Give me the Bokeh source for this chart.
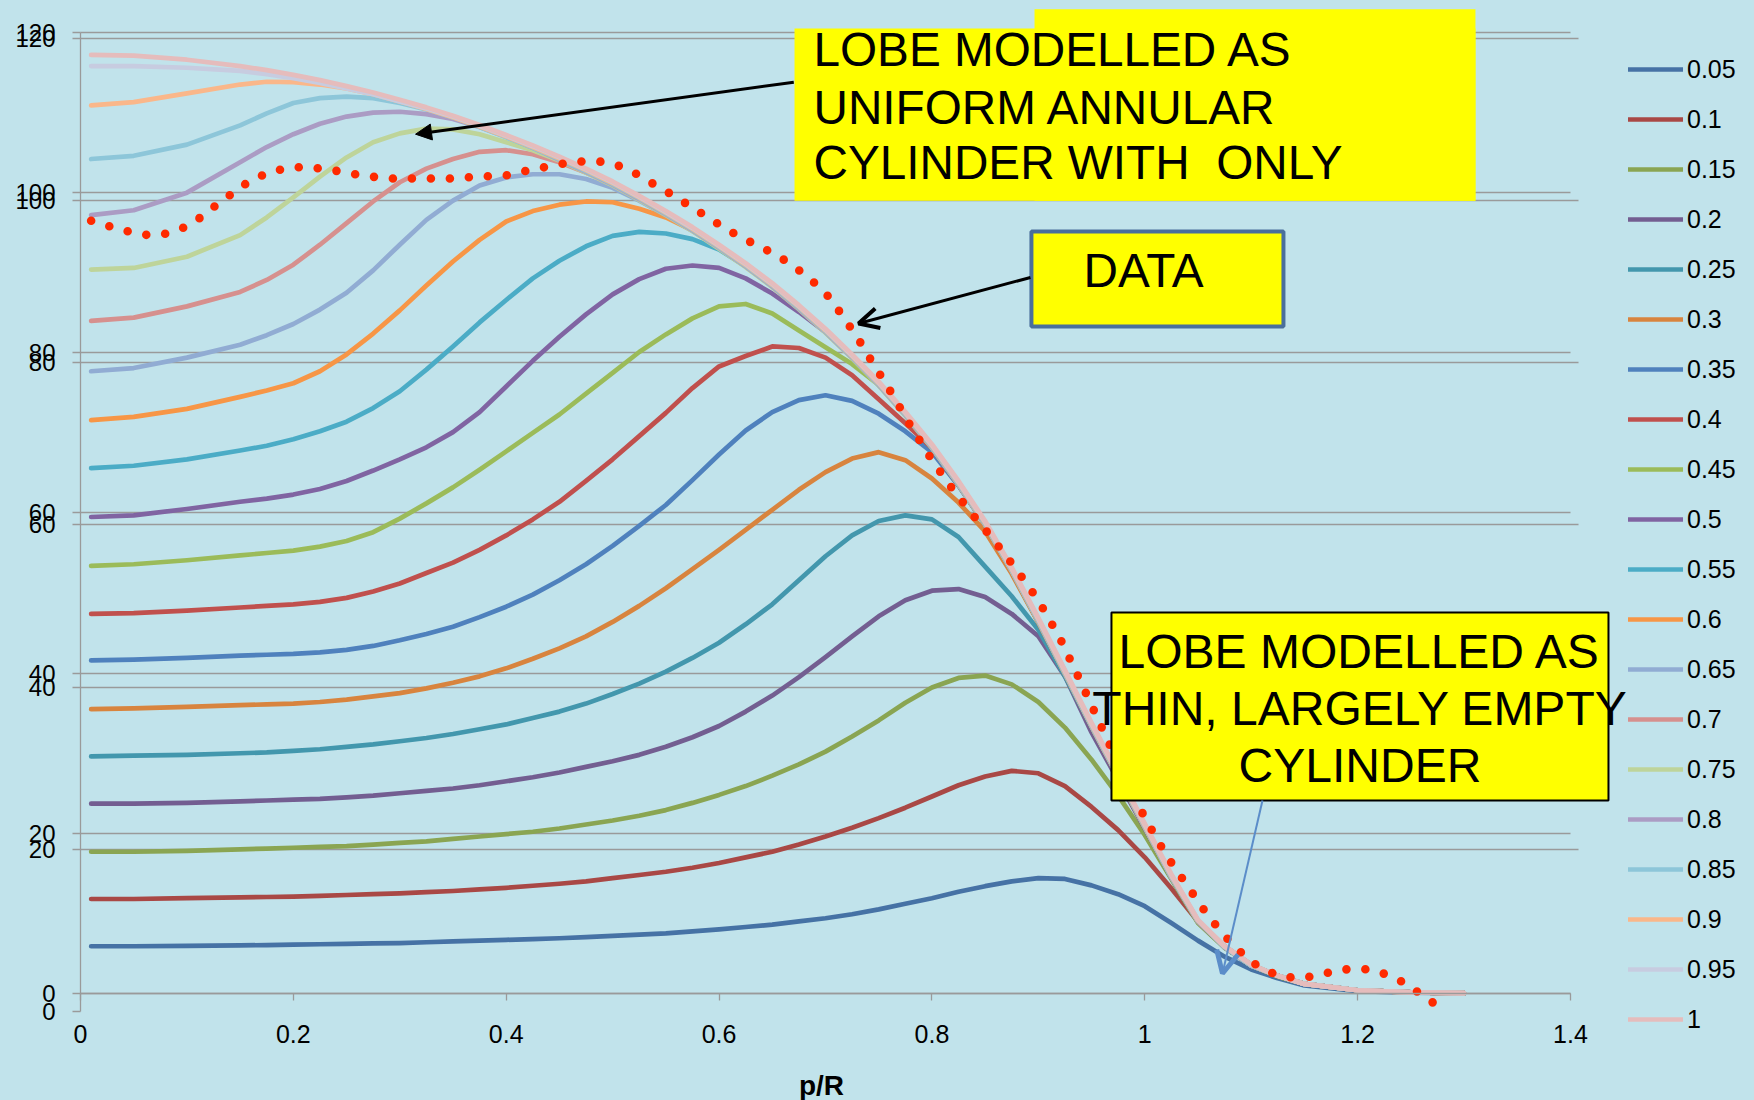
from bokeh.plotting import figure
from bokeh.models import (Range1d, FixedTicker, Grid, BoxAnnotation, Label, Arrow,
                          NormalHead, OpenHead)
from bokeh.embed import file_html
from bokeh.resources import INLINE

BG = "#c1e3eb"
GRID = "#9a9a9a"
FONT = "Liberation Sans"

# ---------------- data ----------------
X = [0.01, 0.05, 0.10, 0.15,
     0.175, 0.20, 0.225, 0.25, 0.275, 0.30, 0.325, 0.35, 0.375, 0.40,
     0.425, 0.45, 0.475, 0.50, 0.525, 0.55, 0.575, 0.60, 0.625, 0.65,
     0.675, 0.70, 0.725, 0.75, 0.775, 0.80, 0.825, 0.85, 0.875, 0.90,
     0.925, 0.95, 0.975, 1.00, 1.025, 1.05, 1.075, 1.10, 1.125, 1.15,
     1.20, 1.25, 1.30]

SERIES_LABELS = ["0.05", "0.1", "0.15", "0.2", "0.25", "0.3", "0.35", "0.4", "0.45", "0.5",
                 "0.55", "0.6", "0.65", "0.7", "0.75", "0.8", "0.85", "0.9", "0.95", "1"]

SERIES_COLORS = ["#4672a5", "#a94845", "#8aa552", "#735e91", "#4397ad", "#d8843e",
                 "#4f81bd", "#c0504d", "#9bbb59", "#8064a2", "#4bacc6", "#f79646",
                 "#91acd3", "#d6908e", "#bed49a", "#ab9cc4", "#8dc6d9", "#fab78a",
                 "#c7cce0", "#e5bcbc"]

S_005 = [5.9, 5.9, 5.95, 6.0, 6.05, 6.1, 6.15, 6.2, 6.25, 6.3,
         6.4, 6.5, 6.6, 6.7, 6.8, 6.9, 7.05, 7.2, 7.35, 7.5,
         7.75, 8.0, 8.3, 8.6, 9.0, 9.4, 9.9, 10.5, 11.2, 11.9,
         12.7, 13.4, 14.0, 14.4, 14.3, 13.5, 12.4, 10.9, 8.8, 6.6,
         4.6, 3.0, 1.9, 1.0, 0.3, 0.1, 0.03]
S_010 = [11.8, 11.8, 11.9, 12.0, 12.05, 12.1, 12.2, 12.3, 12.4, 12.5,
         12.65, 12.8, 13.0, 13.2, 13.45, 13.7, 14.0, 14.4, 14.8, 15.2,
         15.7, 16.3, 17.0, 17.7, 18.6, 19.6, 20.7, 21.9, 23.2, 24.6,
         26.0, 27.1, 27.8, 27.5, 25.9, 23.3, 20.4, 17.0, 13.1, 9.0,
         5.9, 3.6, 2.2, 1.2, 0.4, 0.15, 0.05]
S_015 = [17.7, 17.7, 17.8, 18.0, 18.1, 18.2, 18.3, 18.4, 18.6, 18.8,
         19.0, 19.3, 19.6, 19.9, 20.2, 20.6, 21.1, 21.6, 22.2, 22.9,
         23.8, 24.8, 25.9, 27.2, 28.6, 30.2, 32.1, 34.1, 36.3, 38.2,
         39.4, 39.7, 38.6, 36.4, 33.2, 29.2, 24.7, 19.8, 14.3, 8.8,
         5.7, 3.5, 2.1, 1.2, 0.4, 0.15, 0.05]
S_020 = [23.7, 23.7, 23.8, 24.0, 24.1, 24.2, 24.3, 24.5, 24.7, 25.0,
         25.3, 25.6, 26.0, 26.5, 27.0, 27.6, 28.3, 29.0, 29.8, 30.8,
         32.0, 33.4, 35.2, 37.2, 39.5, 42.0, 44.6, 47.1, 49.1, 50.3,
         50.5, 49.5, 47.4, 44.6, 39.6, 32.6, 26.6, 20.6, 14.6, 9.0,
         5.8, 3.5, 2.2, 1.2, 0.4, 0.15, 0.05]
S_025 = [29.6, 29.7, 29.8, 30.0, 30.1, 30.3, 30.5, 30.8, 31.1, 31.5,
         31.9, 32.4, 33.0, 33.6, 34.4, 35.2, 36.2, 37.4, 38.7, 40.2,
         41.9, 43.8, 46.1, 48.6, 51.6, 54.6, 57.2, 59.0, 59.7, 59.2,
         57.0, 53.3, 49.6, 45.4, 39.6, 33.3, 27.2, 21.0, 14.7, 9.0,
         5.8, 3.5, 2.2, 1.2, 0.4, 0.15, 0.05]
S_030 = [35.5, 35.6, 35.8, 36.0, 36.1, 36.2, 36.4, 36.7, 37.1, 37.5,
         38.1, 38.8, 39.6, 40.6, 41.8, 43.1, 44.6, 46.4, 48.4, 50.6,
         53.0, 55.4, 57.9, 60.4, 62.9, 65.1, 66.8, 67.6, 66.6, 64.3,
         61.3, 57.7, 52.4, 46.3, 40.0, 33.6, 27.2, 20.9, 14.6, 9.0,
         5.8, 3.5, 2.2, 1.2, 0.4, 0.15, 0.05]
S_035 = [41.6, 41.7, 41.9, 42.2, 42.3, 42.4, 42.6, 42.9, 43.4, 44.1,
         44.9, 45.8, 47.0, 48.3, 49.8, 51.6, 53.6, 55.9, 58.4, 61.0,
         64.1, 67.3, 70.3, 72.6, 74.1, 74.7, 74.0, 72.4, 70.2, 67.6,
         63.4, 58.5, 52.8, 46.5, 40.0, 33.4, 27.1, 20.8, 14.5, 9.0,
         5.8, 3.5, 2.2, 1.2, 0.4, 0.15, 0.05]
S_040 = [47.4, 47.5, 47.8, 48.2, 48.4, 48.6, 48.9, 49.4, 50.2, 51.2,
         52.5, 53.8, 55.4, 57.2, 59.2, 61.4, 64.0, 66.7, 69.6, 72.5,
         75.6, 78.3, 79.6, 80.8, 80.6, 79.4, 77.2, 74.2, 71.2, 68.1,
         63.5, 58.5, 52.7, 46.4, 39.9, 33.3, 27.0, 20.7, 14.5, 9.0,
         5.8, 3.5, 2.2, 1.2, 0.4, 0.15, 0.05]
S_045 = [53.4, 53.6, 54.1, 54.7, 55.0, 55.3, 55.8, 56.5, 57.6, 59.3,
         61.2, 63.2, 65.4, 67.7, 70.0, 72.3, 74.9, 77.5, 80.1, 82.3,
         84.3, 85.8, 86.1, 84.9, 82.8, 80.7, 78.6, 76.0, 72.3, 68.2,
         63.6, 58.6, 52.8, 46.5, 40.0, 33.4, 27.1, 20.8, 14.5, 9.0,
         5.8, 3.5, 2.2, 1.2, 0.4, 0.15, 0.05]
S_050 = [59.5, 59.7, 60.5, 61.4, 61.8, 62.3, 63.0, 64.0, 65.3, 66.7,
         68.2, 70.1, 72.6, 75.8, 79.0, 82.0, 84.8, 87.3, 89.2, 90.5,
         90.9, 90.6, 89.3, 87.4, 85.1, 82.6, 79.6, 76.2, 72.45, 68.4,
         63.8, 58.8, 53.0, 46.7, 40.2, 33.6, 27.3, 21.0, 14.7, 9.1,
         5.8, 3.5, 2.2, 1.2, 0.4, 0.15, 0.05]
S_055 = [65.6, 65.9, 66.7, 67.8, 68.4, 69.2, 70.2, 71.4, 73.1, 75.2,
         77.9, 80.8, 83.8, 86.6, 89.3, 91.5, 93.3, 94.6, 95.1, 94.9,
         94.2, 92.9, 90.8, 88.3, 85.6, 82.6, 79.4, 76.0, 72.25, 68.2,
         63.6, 58.6, 52.8, 46.5, 40.0, 33.4, 27.1, 20.8, 14.5, 9.0,
         5.8, 3.5, 2.2, 1.2, 0.4, 0.15, 0.05]
S_060 = [71.6, 72.0, 73.0, 74.5, 75.3, 76.2, 77.7, 79.8, 82.4, 85.3,
         88.4, 91.4, 94.1, 96.4, 97.7, 98.5, 98.9, 98.8, 98.0, 96.9,
         95.3, 93.3, 90.9, 88.4, 85.65, 82.7, 79.5, 76.1, 72.35, 68.3,
         63.7, 58.7, 52.9, 46.6, 40.1, 33.5, 27.2, 20.9, 14.6, 9.0,
         5.8, 3.5, 2.2, 1.2, 0.4, 0.15, 0.05]
S_065 = [77.7, 78.1, 79.4, 81.0, 82.2, 83.6, 85.4, 87.5, 90.3, 93.5,
         96.6, 99.0, 100.9, 101.9, 102.3, 102.3, 101.7, 100.6, 99.0, 97.2,
         95.2, 93.1, 90.8, 88.3, 85.55, 82.6, 79.4, 76.0, 72.25, 68.2,
         63.6, 58.6, 52.8, 46.5, 40.0, 33.4, 27.1, 20.8, 14.5, 9.0,
         5.8, 3.5, 2.2, 1.2, 0.4, 0.15, 0.05]
S_070 = [84.0, 84.4, 85.8, 87.6, 89.1, 91.0, 93.5, 96.2, 98.9, 101.3,
         103.0, 104.2, 105.1, 105.3, 104.8, 103.8, 102.5, 101.0, 99.3, 97.4,
         95.4, 93.2, 90.9, 88.4, 85.65, 82.7, 79.5, 76.1, 72.35, 68.3,
         63.7, 58.7, 52.9, 46.6, 40.1, 33.5, 27.2, 20.9, 14.6, 9.0,
         5.8, 3.5, 2.2, 1.2, 0.4, 0.15, 0.05]
S_075 = [90.4, 90.6, 92.0, 94.7, 96.9, 99.4, 102.0, 104.4, 106.3, 107.4,
         108.0, 107.9, 107.3, 106.3, 105.3, 104.0, 102.5, 100.9, 99.1, 97.2,
         95.2, 93.0, 90.7, 88.2, 85.45, 82.5, 79.3, 75.9, 72.15, 68.1,
         63.5, 58.5, 52.7, 46.4, 39.9, 33.3, 27.0, 20.7, 14.5, 9.0,
         5.8, 3.5, 2.2, 1.2, 0.4, 0.15, 0.05]
S_080 = [97.2, 97.8, 100.0, 103.8, 105.7, 107.3, 108.6, 109.5, 110.0, 110.1,
         109.8, 109.2, 108.2, 107.0, 105.6, 104.1, 102.6, 101.0, 99.2, 97.3,
         95.3, 93.1, 90.8, 88.3, 85.55, 82.6, 79.4, 76.0, 72.25, 68.2,
         63.6, 58.6, 52.8, 46.5, 40.0, 33.4, 27.1, 20.8, 14.5, 9.0,
         5.8, 3.5, 2.2, 1.2, 0.4, 0.15, 0.05]
S_085 = [104.2, 104.6, 106.0, 108.4, 109.9, 111.2, 111.8, 112.0, 111.8, 111.2,
         110.4, 109.4, 108.2, 106.9, 105.6, 104.2, 102.7, 101.1, 99.3, 97.4,
         95.4, 93.2, 90.9, 88.4, 85.65, 82.7, 79.5, 76.1, 72.35, 68.3,
         63.7, 58.7, 52.9, 46.6, 40.1, 33.5, 27.2, 20.9, 14.6, 9.1,
         5.8, 3.5, 2.2, 1.2, 0.4, 0.15, 0.05]
S_090 = [110.9, 111.3, 112.4, 113.5, 113.85, 113.8, 113.5, 113.0, 112.3, 111.4,
         110.45, 109.4, 108.25, 107.0, 105.7, 104.3, 102.8, 101.2, 99.4, 97.5,
         95.5, 93.3, 91.0, 88.5, 85.75, 82.8, 79.6, 76.2, 72.45, 68.4,
         63.8, 58.8, 53.0, 46.7, 40.2, 33.6, 27.3, 21.0, 14.7, 9.1,
         5.9, 3.6, 2.2, 1.2, 0.4, 0.15, 0.05]
S_095 = [115.8, 115.8, 115.6, 115.2, 114.8, 114.3, 113.7, 113.0, 112.3, 111.4,
         110.5, 109.5, 108.35, 107.1, 105.8, 104.4, 102.9, 101.3, 99.5, 97.6,
         95.6, 93.4, 91.1, 88.6, 85.85, 82.9, 79.7, 76.3, 72.55, 68.5,
         63.9, 58.9, 53.1, 46.8, 40.3, 33.7, 27.4, 21.1, 14.8, 9.2,
         5.9, 3.6, 2.2, 1.2, 0.4, 0.15, 0.05]
S_100 = [117.2, 117.1, 116.6, 115.8, 115.3, 114.7, 114.05, 113.3, 112.5, 111.6,
         110.65, 109.6, 108.45, 107.2, 105.9, 104.5, 103.0, 101.4, 99.6, 97.7,
         95.7, 93.5, 91.2, 88.7, 85.95, 83.0, 79.8, 76.4, 72.65, 68.6,
         64.0, 59.0, 53.2, 46.9, 40.4, 33.8, 27.5, 21.2, 14.9, 9.2,
         5.9, 3.6, 2.2, 1.2, 0.4, 0.15, 0.05]

SERIES_VALUES = [S_005, S_010, S_015, S_020, S_025, S_030, S_035, S_040, S_045, S_050,
                 S_055, S_060, S_065, S_070, S_075, S_080, S_085, S_090, S_095, S_100]

# measured data (red dotted curve, drawn on the overlaid chart's own scale)
DATA_X = [0.01, 0.03, 0.05, 0.065, 0.08, 0.10, 0.115, 0.13, 0.145, 0.16, 0.18, 0.20, 0.215,
          0.235, 0.25, 0.27, 0.29, 0.32, 0.345, 0.37, 0.40, 0.42, 0.44, 0.46, 0.48, 0.495,
          0.51, 0.525, 0.54, 0.56, 0.575, 0.59, 0.605, 0.62, 0.64, 0.655, 0.67, 0.685, 0.70,
          0.71, 0.72, 0.73, 0.74, 0.76, 0.78, 0.80, 0.82, 0.84, 0.86, 0.88, 0.90, 0.92, 0.94,
          0.96, 0.98, 1.00, 1.02, 1.04, 1.06, 1.08, 1.10, 1.125, 1.145, 1.165, 1.18, 1.20,
          1.215, 1.235, 1.25, 1.265, 1.28]
DATA_Y = [97.5, 96.7, 96.0, 95.7, 95.9, 96.8, 98.1, 99.7, 101.1, 102.5, 103.6, 104.1, 104.1,
          103.8, 103.4, 103.0, 102.7, 102.7, 102.7, 102.9, 103.1, 103.7, 104.2, 104.7, 104.9,
          104.7, 104.1, 103.1, 101.9, 100.4, 99.1, 97.9, 96.6, 95.5, 94.2, 93.2, 91.9, 90.4,
          88.6, 86.9, 85.0, 83.1, 80.9, 76.7, 72.2, 68.0, 64.3, 61.0, 57.8, 54.4, 50.7, 46.1,
          40.6, 34.9, 29.2, 23.9, 19.3, 15.5, 11.7, 8.6, 6.1, 4.4, 4.1, 4.5, 5.1, 5.3, 5.1,
          4.2, 3.0, 1.6, 0.3]

Y_TICKS = [0, 20, 40, 60, 80, 100, 120]
Y_TICK_LABELS = ["0", "20", "40", "60", "80", "100", "120"]
X_TICKS = [0, 0.2, 0.4, 0.6, 0.8, 1.0, 1.2, 1.4]
X_TICK_LABELS = ["0", "0.2", "0.4", "0.6", "0.8", "1", "1.2", "1.4"]
X_TITLE = "p/R"

# ---------------- scales ----------------
A_RANGE = (-13.362, 123.37)   # model chart (left axis, legend)
B_RANGE = (-10.974, 124.04)   # overlaid data chart
X_RANGE = (-0.07047, 1.5729)
A_AXIS_END = 120
X_AXIS_END = 1.4
B_GRID_END = 1.4075


def b_to_a(v):
    return A_RANGE[0] + (v - B_RANGE[0]) * (A_RANGE[1] - A_RANGE[0]) / (B_RANGE[1] - B_RANGE[0])


p = figure(width=1754, height=1100, x_range=Range1d(*X_RANGE), y_range=Range1d(*A_RANGE),
           output_backend="svg", toolbar_location=None,
           min_border_left=5, min_border_right=0, min_border_top=5, min_border_bottom=0,
           background_fill_color=BG, border_fill_color=BG, outline_line_color=None)
p.extra_y_ranges = {"b": Range1d(*B_RANGE)}
p.xgrid.visible = False
p.ygrid.visible = False

grid_a = Grid(dimension=1, ticker=FixedTicker(ticks=Y_TICKS), grid_line_color=GRID,
              grid_line_width=1.3, cross_bounds=(0, X_AXIS_END))
grid_b = Grid(dimension=1, ticker=FixedTicker(ticks=Y_TICKS[1:]), y_range_name="b",
              grid_line_color=GRID, grid_line_width=1.3, cross_bounds=(0, B_GRID_END))
p.add_layout(grid_a)
p.add_layout(grid_b)

# y axis at p/R = 0: both charts' tick labels share the same axis position
b_ticks = [round(b_to_a(v), 4) for v in Y_TICKS]
overrides = {}
for t, lab in zip(Y_TICKS, Y_TICK_LABELS):
    overrides[float(t)] = lab
for t, lab in zip(b_ticks, Y_TICK_LABELS):
    overrides[float(t)] = lab
yax = p.yaxis[0]
yax.fixed_location = 0
yax.ticker = FixedTicker(ticks=[float(t) for t in Y_TICKS] + b_ticks)
yax.major_label_overrides = overrides
yax.bounds = (b_ticks[0], A_AXIS_END)
yax.axis_line_color = GRID
yax.axis_line_width = 1.3
yax.major_tick_line_color = GRID
yax.major_tick_line_width = 1.3
yax.major_tick_in = 0
yax.major_tick_out = 8
yax.minor_tick_line_color = None
yax.major_label_standoff = 17
yax.major_label_text_font = FONT
yax.major_label_text_font_size = "24px"
yax.major_label_text_color = "black"

# x axis drawn on the model chart's zero line
xax = p.xaxis[0]
xax.fixed_location = 0
xax.ticker = FixedTicker(ticks=X_TICKS)
xax.bounds = (0, X_AXIS_END)
xax.major_label_overrides = {float(t): lab for t, lab in zip(X_TICKS, X_TICK_LABELS)}
xax.axis_line_color = GRID
xax.axis_line_width = 1.3
xax.major_tick_line_color = GRID
xax.major_tick_line_width = 1.3
xax.major_tick_in = 0
xax.major_tick_out = 7
xax.minor_tick_line_color = None
xax.major_label_standoff = 25
xax.major_label_text_font = FONT
xax.major_label_text_font_size = "25px"
xax.major_label_text_color = "black"

p.add_layout(Label(x=0.6962, y=-11.49, text=X_TITLE, text_font=FONT, text_font_size="28px",
                   text_font_style="bold", text_color="black", text_align="center",
                   text_baseline="middle"))

# model curves
for lab, col, vals in zip(SERIES_LABELS, SERIES_COLORS, SERIES_VALUES):
    p.line(X, vals, line_color=col, line_width=4.7, line_cap="round", line_join="round",
           legend_label=lab)

# data curve (dotted)
p.line(DATA_X, DATA_Y, y_range_name="b", line_color="#ff2a00", line_width=8.6,
       line_dash="0 19", line_cap="round", line_join="round")

leg = p.legend[0]
leg.location = (1623, 61)
leg.glyph_width = 55
leg.glyph_height = 40
leg.label_height = 40
leg.spacing = 10
leg.padding = 0
leg.margin = 0
leg.label_standoff = 4
leg.label_text_font = FONT
leg.label_text_font_size = "25px"
leg.label_text_color = "black"
leg.background_fill_alpha = 0
leg.border_line_alpha = 0

# ---------------- annotations ----------------
YEL = "#ffff00"
p.add_layout(BoxAnnotation(left=0.6709, right=1.3107, top=120.5, bottom=99.0,
                           fill_color=YEL, fill_alpha=1, line_alpha=0))
p.add_layout(BoxAnnotation(left=0.8964, right=1.3107, top=122.9, bottom=99.0,
                           fill_color=YEL, fill_alpha=1, line_alpha=0))
p.add_layout(BoxAnnotation(left=0.8935, right=1.1303, top=95.15, bottom=83.29,
                           fill_color=YEL, fill_alpha=1, line_color="#4a6f9c", line_width=4,
                           line_alpha=1))
p.add_layout(BoxAnnotation(left=0.9687, right=1.4357, top=47.58, bottom=24.10,
                           fill_color=YEL, fill_alpha=1, line_color="black", line_width=2,
                           line_alpha=1))

for txt, yy in [("LOBE MODELLED AS", 117.86), ("UNIFORM ANNULAR", 110.66),
                ("CYLINDER WITH\u00a0 ONLY", 103.80)]:
    p.add_layout(Label(x=0.6887, y=yy, text=txt, text_font=FONT, text_font_size="47.7px",
                       text_color="black", text_align="left", text_baseline="middle"))
p.add_layout(Label(x=0.9424, y=90.22, text="DATA", text_font=FONT, text_font_size="47.7px",
                   text_color="black", text_align="left", text_baseline="middle"))
for txt, yy in [("LOBE MODELLED AS", 42.68), ("THIN, LARGELY EMPTY", 35.53),
                ("CYLINDER", 28.53)]:
    p.add_layout(Label(x=1.2022, y=yy, text=txt, text_font=FONT, text_font_size="48px",
                       text_color="black", text_align="center", text_baseline="middle"))

p.add_layout(Arrow(x_start=0.6702, y_start=113.8, x_end=0.3148, y_end=107.3,
                   line_color="black", line_width=3,
                   end=NormalHead(size=16, fill_color="black", line_color="black")))
p.add_layout(Arrow(x_start=0.8926, y_start=89.41, x_end=0.7310, y_end=83.67,
                   line_color="black", line_width=3,
                   end=OpenHead(size=20, line_color="black", line_width=4)))
p.add_layout(Arrow(x_start=1.1106, y_start=24.10, x_end=1.0730, y_end=2.50,
                   line_color="#5b8dc9", line_width=2,
                   end=OpenHead(size=22, line_color="#5b8dc9", line_width=5)))

html = file_html(p, INLINE, title="lobe profiles")
html = html.replace("<head>", "<head>\n<style>html, body { background: #c1e3eb; }</style>", 1)
open("out.html", "w").write(html)
